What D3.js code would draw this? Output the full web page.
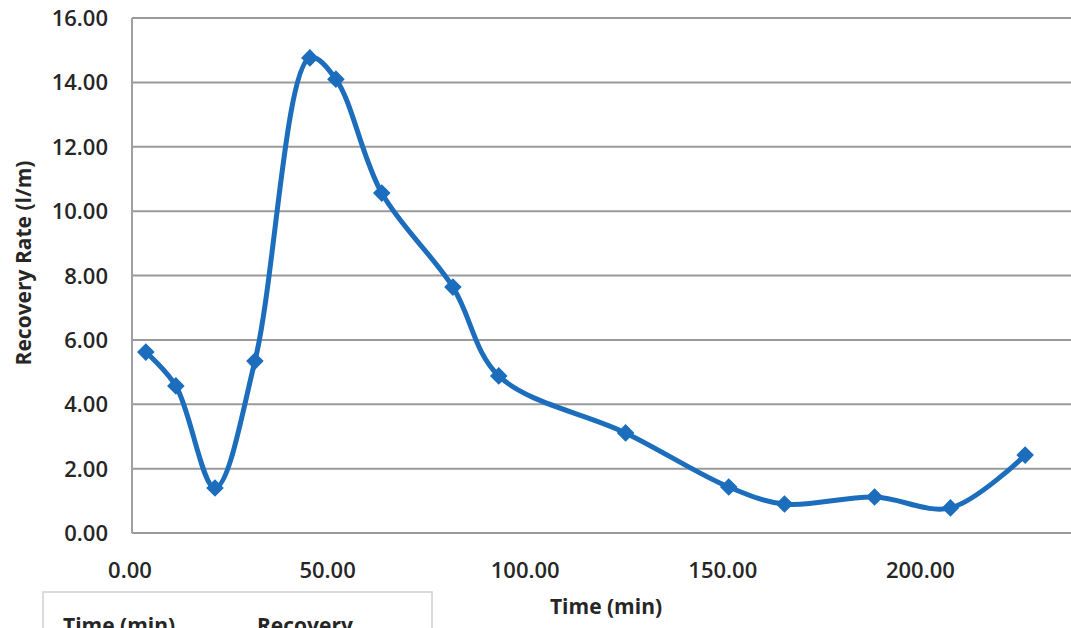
<!DOCTYPE html>
<html>
<head>
<meta charset="utf-8">
<script src="https://cdn.jsdelivr.net/npm/d3@7"></script>
<style>
  body { margin: 0; background: #fff; }
  svg { display: block; }
  text { font-family: "Open Sans", sans-serif; fill: #262626; }
</style>
</head>
<body>
<div id="chart"></div>
<script>
// readings from the scanned chart
const timeMin = [3.5, 11.1, 21.0, 31.1, 45.0, 51.6, 63.2, 81.2, 92.8, 124.9, 151.0, 165.1, 187.9, 207.1, 226.0];
const recoveryRate = [5.62, 4.57, 1.40, 5.34, 14.76, 14.10, 10.56, 7.64, 4.88, 3.11, 1.43, 0.90, 1.12, 0.78, 2.42];
const yTicks = [0, 2, 4, 6, 8, 10, 12, 14, 16];
const xTicks = [0, 50, 100, 150, 200];
const tableHeaders = ['Time (min)', 'Recovery'];

const width = 1071, height = 628;

const svg = d3.select('#chart').append('svg')
  .attr('width', width).attr('height', height);

// plot runs off the right edge in the crop
let x = d3.scaleLinear().domain([0, 250]).range([132, 1120]);
let y = d3.scaleLinear().domain([0, 16]).range([533, 18]);

// gridlines
svg.append('g').attr('class', 'grid')
  .selectAll('line')
  .data(yTicks)
  .enter()
  .append('line')
  .attr('x1', x(0))
  .attr('x2', width)
  .attr('y1', d => y(d))
  .attr('y2', d => y(d))
  .attr('stroke', '#9a9a9a')
  .attr('stroke-width', 2);

// left axis line
svg.append('line')
  .attr('x1', x(0)).attr('x2', x(0))
  .attr('y1', y(16)).attr('y2', y(0))
  .attr('stroke', '#a0a0a0')
  .attr('stroke-width', 2);

// y tick labels
svg.append('g')
  .selectAll('text')
  .data(yTicks)
  .enter()
  .append('text')
  .attr('x', 108)
  .attr('y', d => y(d) + 8)
  .attr('text-anchor', 'end')
  .attr('font-size', 22)
  .attr('font-weight', 600)
  .text(d => d3.format('.2f')(d));

// x tick labels
svg.append('g')
  .selectAll('text')
  .data(xTicks)
  .enter()
  .append('text')
  .attr('x', d => x(d) - 2)
  .attr('y', 578)
  .attr('text-anchor', 'middle')
  .attr('font-size', 22)
  .attr('font-weight', 600)
  .text(d => d3.format('.2f')(d));

// axis titles
svg.append('text')
  .attr('transform', 'translate(31,263) rotate(-90)')
  .attr('text-anchor', 'middle')
  .attr('font-size', 21)
  .attr('font-weight', 700)
  .text('Recovery Rate (l/m)');

svg.append('text')
  .attr('x', 606)
  .attr('y', 614)
  .attr('text-anchor', 'middle')
  .attr('font-size', 21)
  .attr('font-weight', 700)
  .text('Time (min)');

// data table fragment cut off at the bottom
svg.append('rect')
  .attr('x', 43).attr('y', 592)
  .attr('width', 389).attr('height', 60)
  .attr('fill', 'none')
  .attr('stroke', '#d0d0d0')
  .attr('stroke-width', 1.5);

svg.append('g')
  .selectAll('text')
  .data(tableHeaders)
  .enter()
  .append('text')
  .attr('x', (d, i) => i === 0 ? 63 : 257)
  .attr('y', 633)
  .attr('font-size', 21)
  .attr('font-weight', 700)
  .text(d => d);

// series
let points = timeMin.map((t, i) => ({ t: t, v: recoveryRate[i] }));

let line = d3.line()
  .x(d => x(d.t))
  .y(d => y(d.v))
  .curve(d3.curveCatmullRom.alpha(0.5));

svg.append('path')
  .datum(points)
  .attr('d', line)
  .attr('fill', 'none')
  .attr('stroke', '#1c6ebd')
  .attr('stroke-width', 5)
  .attr('stroke-linejoin', 'round');

// square markers turned 45 degrees, as in the Excel diamond
let marker = d3.symbol().type(d3.symbolSquare).size(120);

svg.append('g')
  .selectAll('path')
  .data(points)
  .enter()
  .append('path')
  .attr('d', marker)
  .attr('transform', d => 'translate(' + x(d.t) + ',' + y(d.v) + ') rotate(45)')
  .attr('fill', '#1c6ebd')
  .attr('stroke', '#1c6ebd')
  .attr('stroke-width', 1.5);
</script>
</body>
</html>
